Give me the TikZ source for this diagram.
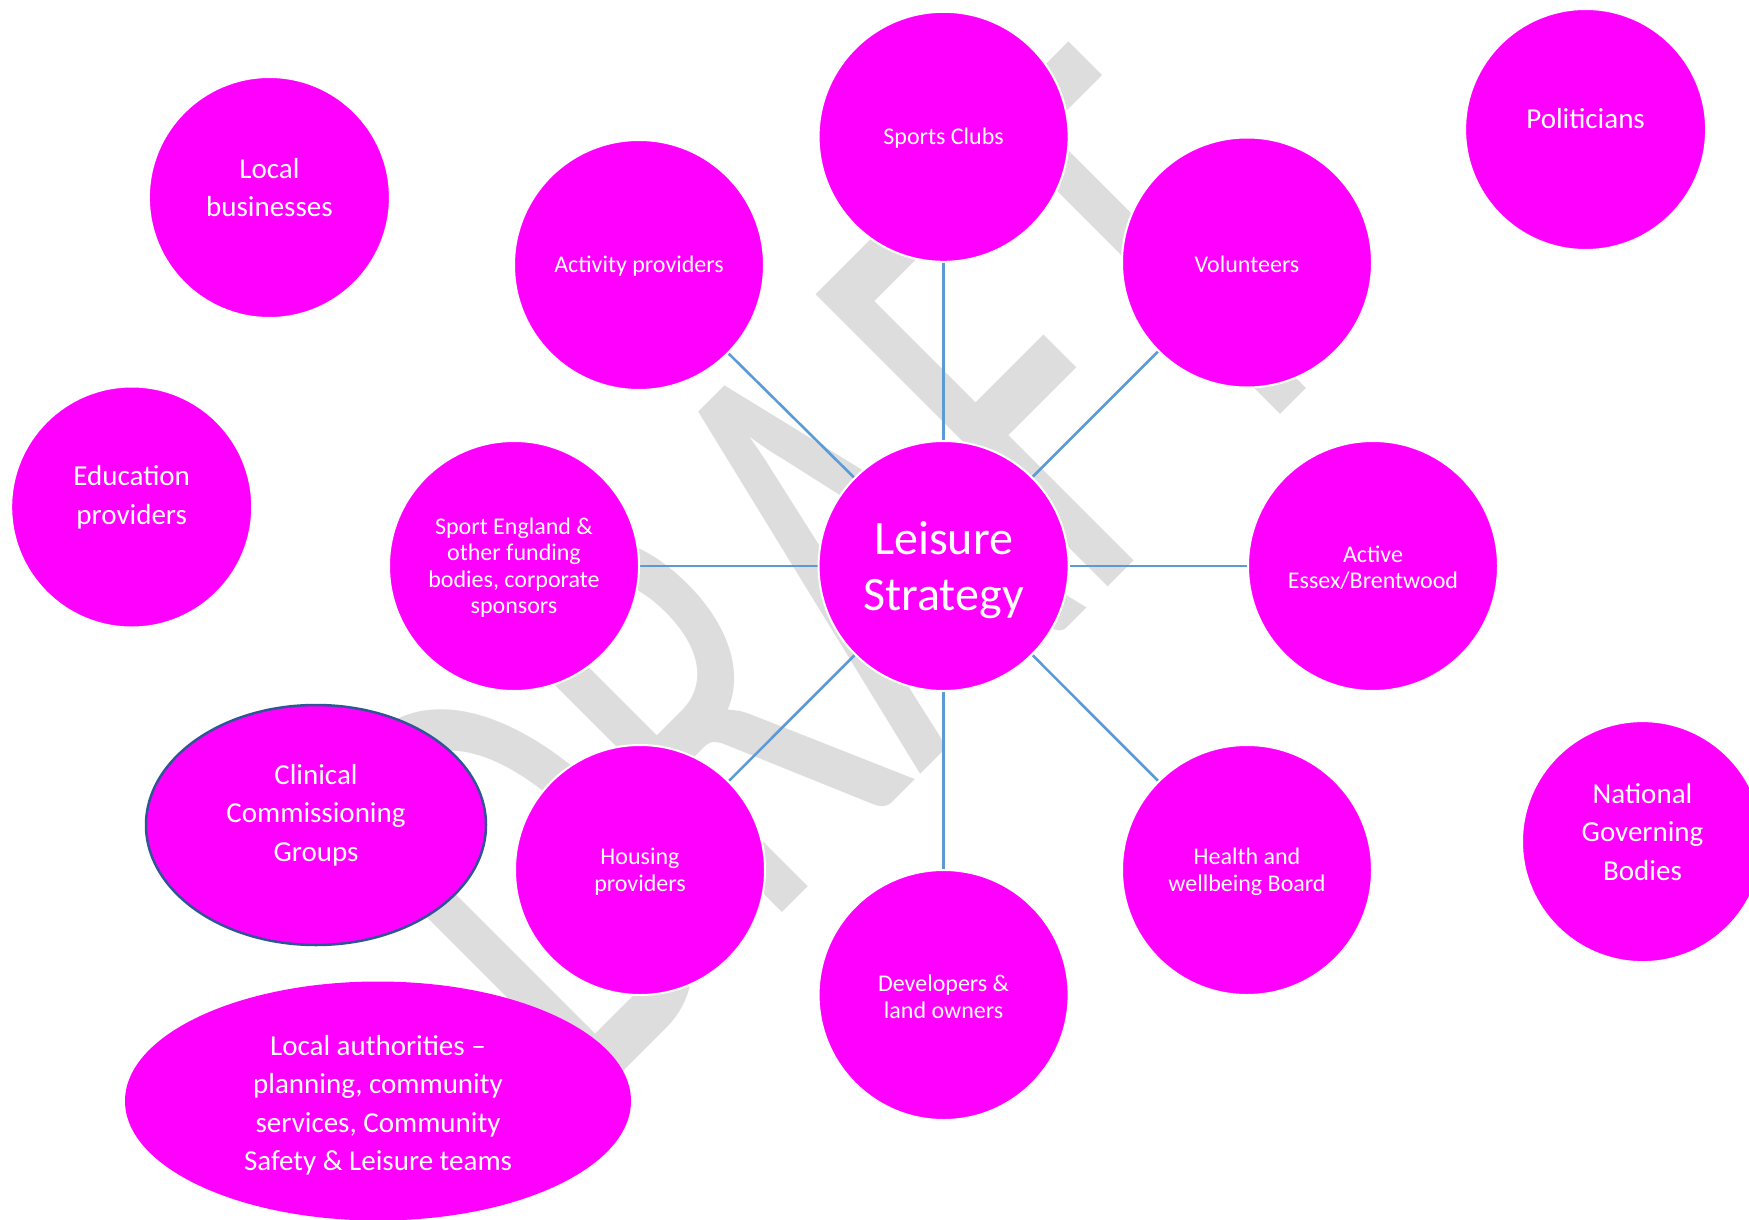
\documentclass[tikz,border=0pt]{standalone}
\usepackage{fontspec}
\setmainfont{Carlito}
\usetikzlibrary{shapes.geometric}
\pgfdeclarelayer{wm}
\pgfdeclarelayer{edges}
\pgfsetlayers{wm,edges,main}
\definecolor{mag}{RGB}{255,0,255}
\definecolor{conn}{RGB}{91,155,213}
\definecolor{wmgray}{RGB}{221,221,221}
\definecolor{ccgborder}{RGB}{47,85,151}
\tikzset{
  bub/.style={circle, fill=mag, draw=white, line width=2pt, inner sep=0pt, minimum size=#1},
  oval/.style={ellipse, fill=mag, inner sep=0pt},
  lbl/.style={text=white, align=center, inner sep=0pt},
  smalltxt/.style={lbl, font=\fontsize{24}{26.5}\selectfont},
  bigtxt/.style={lbl, font=\fontsize{29}{38.5}\selectfont},
  hugetxt/.style={lbl, font=\fontsize{48}{56}\selectfont},
  conline/.style={draw=conn, line width=2.6pt},
  wmtext/.style={text=wmgray, inner sep=0pt, font=\fontsize{100}{100}\selectfont}
}
\begin{document}
\begin{tikzpicture}[x=1pt,y=-1pt]
\useasboundingbox (0,0) rectangle (1749,1220);
\clip (0,0) rectangle (1749,1220);
% watermark
\begin{pgfonlayer}{wm}
\node[wmtext, anchor=base west, rotate=45, xscale=4.12, yscale=6.44] (wm) at (582,1113) {DRAFT};
\end{pgfonlayer}
% circles
\node[bub=250] (lei) at (943.6,566) {};
\node[bub=250] (sc) at (943.6,136.8) {};
\node[bub=250] (act) at (639,265) {};
\node[bub=250] (vol) at (1247,262.5) {};
\node[bub=250] (spe) at (514,566) {};
\node[bub=250] (ae) at (1373,566) {};
\node[bub=250] (hou) at (640,870) {};
\node[bub=250] (hw) at (1247,870) {};
\node[bub=250] (dev) at (943.6,995) {};
\node[bub=241] (lb) at (269.4,197.5) {};
\node[bub=241] (edu) at (131.7,507) {};
\node[bub=241] (pol) at (1585.6,129.5) {};
\node[bub=241] (ngb) at (1642.5,841.6) {};
\node[oval, draw=ccgborder, line width=2.5pt, minimum width=340, minimum height=240] (ccg) at (316,825) {};
\node[oval, minimum width=506, minimum height=239] (la) at (378,1101) {};
% labels
\node[hugetxt] (lei-t) at (943.6,570.5) {Leisure\\Strategy};
\node[smalltxt] (sc-t) at (943.6,138.3) {Sports Clubs};
\node[smalltxt] (act-t) at (639,266.5) {Activity providers};
\node[smalltxt] (vol-t) at (1247,264) {Volunteers};
\node[smalltxt] (spe-t) at (514,567.5) {Sport England \&\\other funding\\bodies, corporate\\sponsors};
\node[smalltxt] (ae-t) at (1373,567.5) {Active\\Essex/Brentwood};
\node[smalltxt] (hou-t) at (640,871.5) {Housing\\providers};
\node[smalltxt] (hw-t) at (1247,871.5) {Health and\\wellbeing Board};
\node[smalltxt] (dev-t) at (943.6,996.5) {Developers \&\\land owners};
\node[bigtxt] (lb-t) at (269.4,187.5) {Local\\businesses};
\node[bigtxt] (edu-t) at (131.7,497.5) {Education\\providers};
\node[bigtxt] (pol-t) at (1585.6,119) {Politicians};
\node[bigtxt] (ngb-t) at (1642.5,831.6) {National\\Governing\\Bodies};
\node[bigtxt] (ccg-t) at (316,815) {Clinical\\Commissioning\\Groups};
\node[bigtxt] (la-t) at (378,1105.5) {Local authorities –\\planning, community\\services, Community\\Safety \& Leisure teams};
% connectors
\begin{pgfonlayer}{edges}
\draw[conline] (lei) -- (sc);
\draw[conline] (lei) -- (act);
\draw[conline] (lei) -- (vol);
\draw[conline] (lei) -- (spe);
\draw[conline] (lei) -- (ae);
\draw[conline] (lei) -- (hou);
\draw[conline] (lei) -- (hw);
\draw[conline] (lei) -- (dev);
\end{pgfonlayer}
\end{tikzpicture}
\end{document}
